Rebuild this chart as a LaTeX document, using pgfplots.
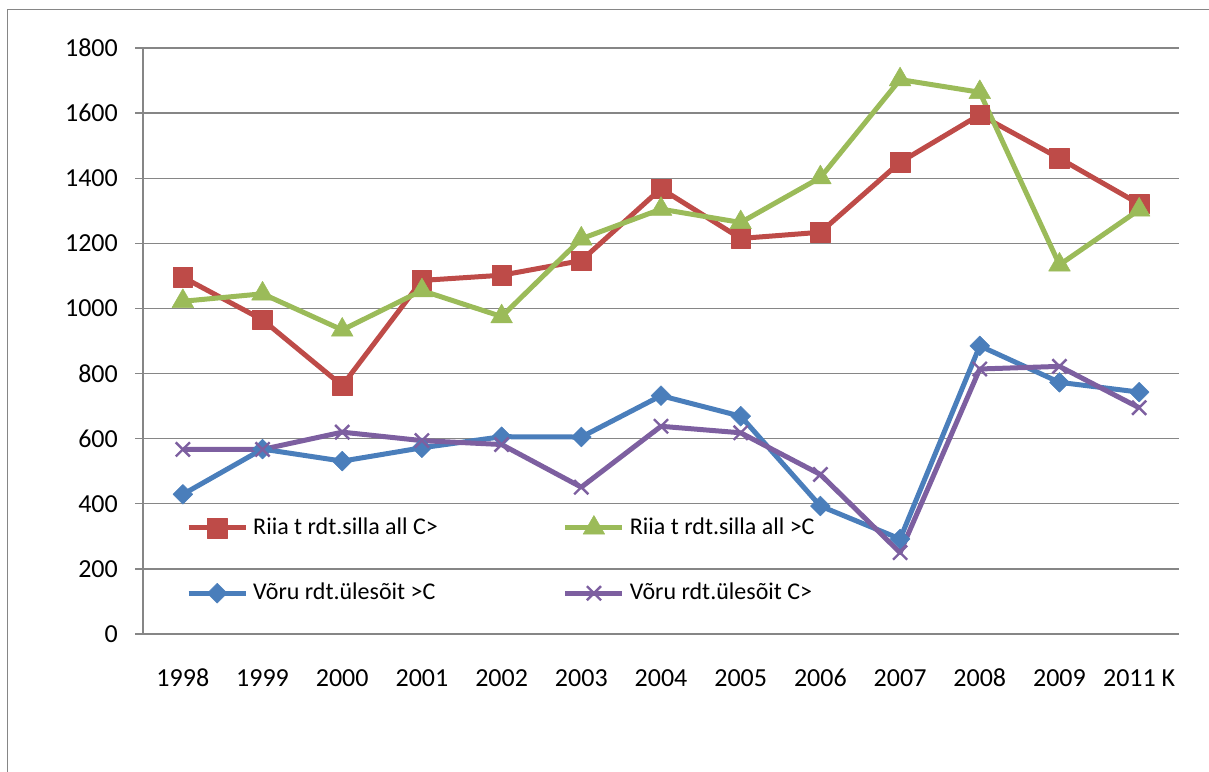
\documentclass[border=0pt]{standalone}
\usepackage{fontspec}
\setmainfont{Carlito}
\usepackage{pgfplots}
\pgfplotsset{compat=1.18}
\definecolor{xlred}{HTML}{BE4B48}
\definecolor{xlgreen}{HTML}{9BBB59}
\definecolor{xlblue}{HTML}{4A7EBB}
\definecolor{xlpurple}{HTML}{7D5FA0}
\definecolor{axgray}{HTML}{868686}

\begin{document}
\fontsize{24}{29}\selectfont
\begin{tikzpicture}[x=1pt,y=1pt]
  \path[use as bounding box] (0,0) rectangle (1209,771);
  \draw[axgray, line width=1.3pt] (7.3,-5) -- (7.3,761.7) -- (1215,761.7);
  \begin{axis}[
    at={(143pt,137pt)}, anchor=south west,
    scale only axis, width=1036pt, height=586pt,
    xmin=-0.5, xmax=12.5, ymin=0, ymax=1800,
    axis x line*=bottom, axis y line*=left,
    axis line style={axgray, line width=1.3pt, -},
    xtick={0,...,12},
    xticklabels={1998,1999,2000,2001,2002,2003,2004,2005,2006,2007,2008,2009,2011 K},
    major x tick style={draw=none},
    extra x ticks={-0.5,0.5,...,12.5},
    extra x tick labels={},
    extra x tick style={major tick length=8pt, tick style={axgray, line width=1.3pt}},
    ytick={0,200,...,1800},
    ymajorgrids,
    grid style={axgray, line width=1.3pt},
    tick align=outside,
    major tick length=8pt,
    y tick style={axgray, line width=1.3pt},
    tick label style={font=\fontsize{26}{31}\selectfont},
    /pgf/number format/assume math mode=true,
    /pgf/number format/set thousands separator={},
    xticklabel style={anchor=base, yshift=-44pt},
    yticklabel style={anchor=east, inner sep=0pt, xshift=-17pt},
    legend columns=2,
    legend cell align=left,
    legend style={draw=none, fill=none, inner sep=0pt,
      at={(axis cs:0.04,226)}, anchor=west,
      font=\fontsize{24}{29}\selectfont,
      /tikz/every odd column/.append style={column sep=3pt},
      /tikz/every even column/.append style={column sep=123pt},
      row sep=41pt},
    legend image code/.code={%
      \draw[mark repeat=2, mark phase=2, #1] plot coordinates {(0pt,0pt) (28.5pt,0pt) (57pt,0pt)};},
    every axis plot/.append style={line width=5pt, line join=round},
  ]
    \addplot[xlred, mark=square*, mark size=9.8pt, mark options={solid, line width=0.5pt}]
      coordinates {(0,1096) (1,965) (2,763) (3,1086) (4,1102) (5,1147) (6,1368)
                   (7,1215) (8,1234) (9,1449) (10,1595) (11,1461) (12,1321)};
    \addplot[xlgreen, mark=triangle*, mark size=12.5pt, mark options={solid, line width=0.5pt}]
      coordinates {(0,1022) (1,1045) (2,934) (3,1055) (4,975) (5,1214) (6,1305)
                   (7,1264) (8,1402) (9,1703) (10,1664) (11,1134) (12,1303)};
    \addplot[xlblue, mark=square*, mark size=7pt, mark options={solid, rotate=45, line width=0.5pt}]
      coordinates {(0,429) (1,568) (2,531) (3,572) (4,606) (5,605) (6,732)
                   (7,669) (8,393) (9,292) (10,885) (11,773) (12,743)};
    \addplot[xlpurple, mark=x, mark size=10pt, mark options={solid, line width=2.4pt}]
      coordinates {(0,567) (1,567) (2,620) (3,594) (4,582) (5,451) (6,638)
                   (7,618) (8,490) (9,250) (10,814) (11,822) (12,695)};
    \legend{Riia t rdt.silla all C>, Riia t rdt.silla all >C, Võru rdt.ülesõit >C, Võru rdt.ülesõit C>}
  \end{axis}
\end{tikzpicture}
\end{document}
